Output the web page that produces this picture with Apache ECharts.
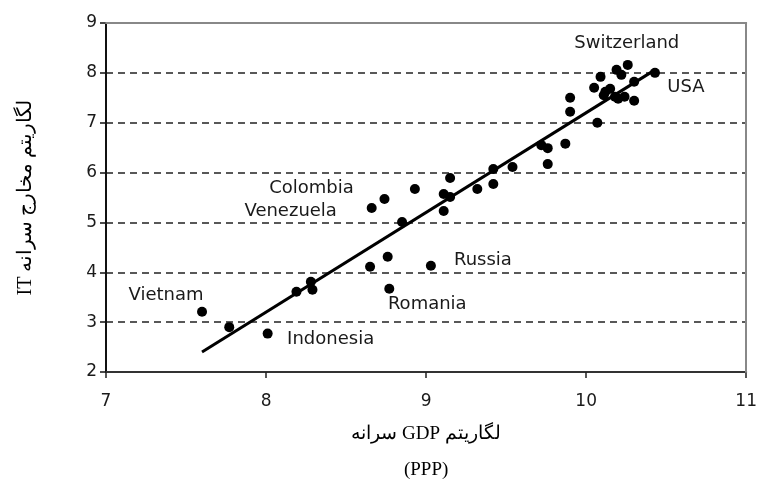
<!DOCTYPE html>
<html>
<head>
<meta charset="utf-8">
<script src="https://cdn.jsdelivr.net/npm/echarts@6/dist/echarts.min.js"></script>
<style>
  html, body { margin: 0; padding: 0; background: #fff; }
  #chart { width: 760px; height: 494px; }
</style>
</head>
<body>
<div id="chart"></div>
<script>
// log GDP per capita (PPP) and log IT spending per capita, one entry per country
const gdpLog = [7.60, 7.77, 8.01, 8.19, 8.28, 8.29, 8.65, 8.76, 8.77, 9.03,
  8.66, 8.74, 8.93, 8.85, 9.15, 9.11, 9.15, 9.11, 9.32, 9.42,
  9.42, 9.54, 9.76, 9.72, 9.76, 9.87, 9.90, 9.90, 10.07, 10.05,
  10.09, 10.12, 10.15, 10.18, 10.20, 10.19, 10.26, 10.22, 10.30, 10.30,
  10.43, 10.24, 10.11]
const itLog = [3.21, 2.90, 2.77, 3.61, 3.81, 3.65, 4.11, 4.31, 3.67, 4.13,
  5.29, 5.47, 5.67, 5.01, 5.89, 5.57, 5.51, 5.23, 5.67, 5.77,
  6.07, 6.11, 6.17, 6.55, 6.49, 6.58, 7.22, 7.50, 7.00, 7.70,
  7.92, 7.62, 7.68, 7.52, 7.48, 8.06, 8.16, 7.96, 7.82, 7.44,
  8.00, 7.52, 7.55]
// countries named on the chart (by index)
const namedPoints = {
  0: 'Vietnam', 2: 'Indonesia', 8: 'Romania', 9: 'Russia',
  10: 'Venezuela', 11: 'Colombia', 36: 'Switzerland', 40: 'USA'
}
// fitted trend line end points
const fitX = [7.6, 10.43]
const fitY = [2.40, 8.06]

const xTitle = '\u202Bلگاریتم GDP سرانه\u202C\n(PPP)'
const yTitle = '\u202Bلگاریتم مخارج سرانه IT\u202C'

// label offsets from the dot (pixels)
const labelOffset = {
  Vietnam: [-36, -16], Indonesia: [63, 6], Romania: [38, 16], Russia: [52, -5],
  Venezuela: [-81, 3], Colombia: [-73, -11], Switzerland: [-1, -22], USA: [31, 14]
}

const chart = echarts.init(document.getElementById('chart'))

const points = gdpLog.map((x, i) => {
  const name = namedPoints[i]
  const item = { value: [x, itLog[i]] }
  if (name) {
    item.name = name
    item.label = {
      show: true,
      position: 'inside',
      offset: labelOffset[name],
      formatter: name,
      color: '#1a1a1a',
      fontFamily: 'DejaVu Sans',
      fontSize: 18
    }
  }
  return item
})

const tickFont = { color: '#1a1a1a', fontFamily: 'DejaVu Sans', fontSize: 17 }

chart.setOption({
  animation: false,
  backgroundColor: '#fff',
  grid: { left: 106, right: 11, top: 23, bottom: 122 },
  xAxis: [
    {
      type: 'value',
      min: 7,
      max: 11,
      interval: 1,
      name: xTitle,
      nameLocation: 'middle',
      nameGap: 44,
      nameTextStyle: { fontFamily: 'Liberation Serif', fontSize: 19, color: '#000', lineHeight: 36 },
      axisLine: { lineStyle: { color: '#333', width: 2 } },
      axisTick: { length: 6, lineStyle: { color: '#222', width: 1.5 } },
      axisLabel: Object.assign({ margin: 21 }, tickFont),
      splitLine: { show: false }
    },
    {
      type: 'value',
      position: 'top',
      min: 7,
      max: 11,
      z: 5,
      axisLine: { show: true, lineStyle: { color: '#888', width: 2 } },
      axisTick: { show: false },
      axisLabel: { show: false },
      splitLine: { show: false }
    }
  ],
  yAxis: [
    {
      type: 'value',
      min: 2,
      max: 9,
      interval: 1,
      name: yTitle,
      nameLocation: 'middle',
      nameRotate: 90,
      nameGap: 70,
      nameTextStyle: { fontFamily: 'Liberation Serif', fontSize: 20, color: '#000' },
      axisLine: { show: true, lineStyle: { color: '#111', width: 2 } },
      axisTick: { show: true, length: 6, lineStyle: { color: '#111', width: 1.5 } },
      axisLabel: Object.assign({ margin: 9 }, tickFont),
      splitLine: { show: true, lineStyle: { color: '#222', width: 1.5, type: [7, 5] } }
    },
    {
      type: 'value',
      position: 'right',
      min: 2,
      max: 9,
      z: 5,
      axisLine: { show: true, lineStyle: { color: '#888', width: 2 } },
      axisTick: { show: false },
      axisLabel: { show: false },
      splitLine: { show: false }
    }
  ],
  series: [
    {
      type: 'line',
      data: fitX.map((x, i) => [x, fitY[i]]),
      showSymbol: false,
      lineStyle: { color: '#000', width: 3 },
      z: 2
    },
    {
      type: 'scatter',
      data: points,
      symbolSize: 10,
      itemStyle: { color: '#000', opacity: 1 },
      z: 3
    }
  ]
})
</script>
</body>
</html>
